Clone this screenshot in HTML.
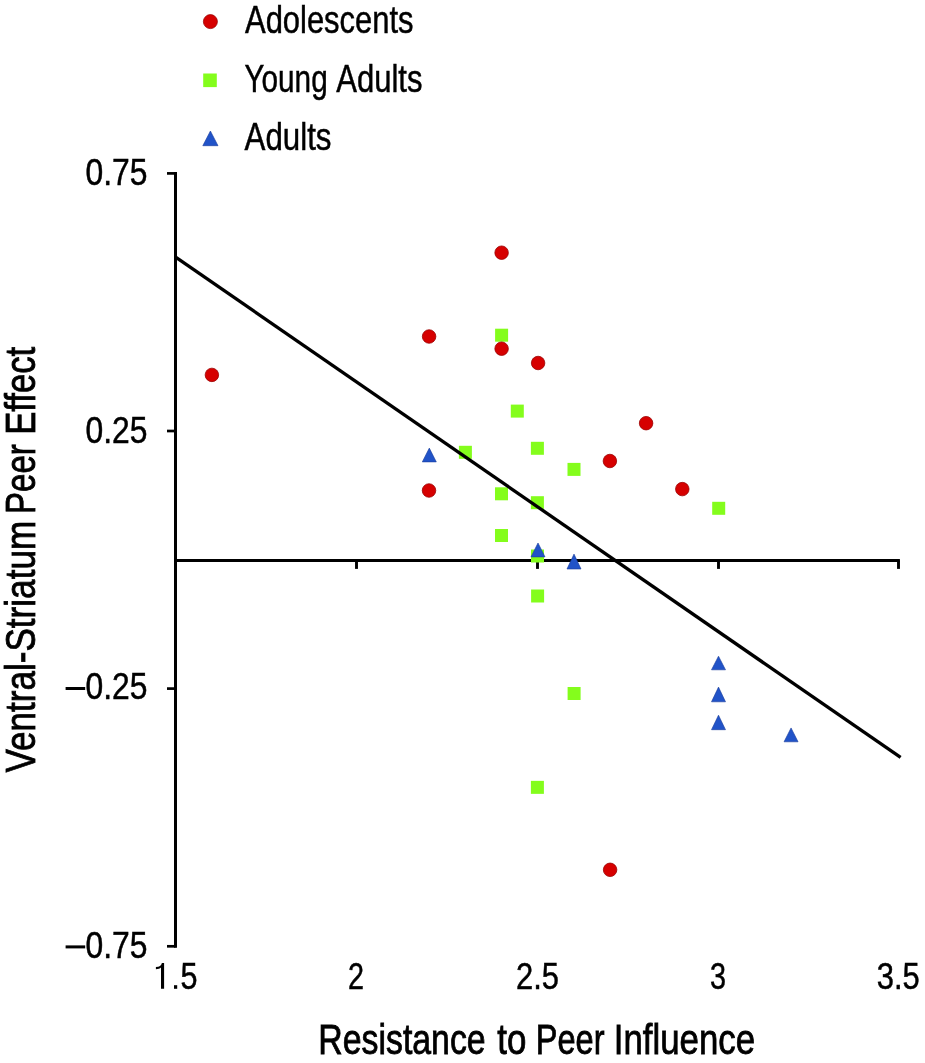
<!DOCTYPE html>
<html><head><meta charset="utf-8"><title>Chart</title>
<style>html,body{margin:0;padding:0;background:#fff;width:925px;height:1063px;overflow:hidden}svg{display:block;will-change:transform}</style>
</head><body><svg width="925" height="1063" viewBox="0 0 925 1063"><rect width="925" height="1063" fill="#fff"/><line x1="175.5" y1="172.1" x2="175.5" y2="947.7" stroke="#000" stroke-width="3"/><line x1="167" y1="173.4" x2="175.5" y2="173.4" stroke="#000" stroke-width="2.7"/><line x1="167" y1="431.0" x2="175.5" y2="431.0" stroke="#000" stroke-width="2.7"/><line x1="167" y1="688.6" x2="175.5" y2="688.6" stroke="#000" stroke-width="2.7"/><line x1="167" y1="946.3" x2="175.5" y2="946.3" stroke="#000" stroke-width="2.7"/><line x1="175.5" y1="560.4" x2="899.9" y2="560.4" stroke="#000" stroke-width="3"/><line x1="356.5" y1="560.4" x2="356.5" y2="568.9" stroke="#000" stroke-width="2.9"/><line x1="537.5" y1="560.4" x2="537.5" y2="568.9" stroke="#000" stroke-width="2.9"/><line x1="718.5" y1="560.4" x2="718.5" y2="568.9" stroke="#000" stroke-width="2.9"/><line x1="898.5" y1="560.4" x2="898.5" y2="568.9" stroke="#000" stroke-width="2.9"/><rect x="495.10" y="328.70" width="13.0" height="13.0" fill="#84fd1c"/><rect x="510.80" y="404.60" width="13.0" height="13.0" fill="#84fd1c"/><rect x="458.90" y="445.80" width="13.0" height="13.0" fill="#84fd1c"/><rect x="530.90" y="441.80" width="13.0" height="13.0" fill="#84fd1c"/><rect x="567.50" y="462.90" width="13.0" height="13.0" fill="#84fd1c"/><rect x="495.00" y="487.30" width="13.0" height="13.0" fill="#84fd1c"/><rect x="530.90" y="496.20" width="13.0" height="13.0" fill="#84fd1c"/><rect x="495.00" y="529.00" width="13.0" height="13.0" fill="#84fd1c"/><rect x="531.00" y="549.50" width="13.0" height="13.0" fill="#84fd1c"/><rect x="531.10" y="589.50" width="13.0" height="13.0" fill="#84fd1c"/><rect x="567.60" y="687.00" width="13.0" height="13.0" fill="#84fd1c"/><rect x="530.90" y="780.85" width="13.0" height="13.0" fill="#84fd1c"/><rect x="712.20" y="501.80" width="13.0" height="13.0" fill="#84fd1c"/><circle cx="211.9" cy="374.9" r="6.75" fill="#d60000" stroke="#9a0000" stroke-width="0.8"/><circle cx="429.1" cy="336.5" r="6.75" fill="#d60000" stroke="#9a0000" stroke-width="0.8"/><circle cx="501.6" cy="252.7" r="6.75" fill="#d60000" stroke="#9a0000" stroke-width="0.8"/><circle cx="501.6" cy="348.7" r="6.75" fill="#d60000" stroke="#9a0000" stroke-width="0.8"/><circle cx="538.1" cy="363" r="6.75" fill="#d60000" stroke="#9a0000" stroke-width="0.8"/><circle cx="429.0" cy="490.5" r="6.75" fill="#d60000" stroke="#9a0000" stroke-width="0.8"/><circle cx="646.1" cy="423.2" r="6.75" fill="#d60000" stroke="#9a0000" stroke-width="0.8"/><circle cx="609.9" cy="461.0" r="6.75" fill="#d60000" stroke="#9a0000" stroke-width="0.8"/><circle cx="682.3" cy="489.1" r="6.75" fill="#d60000" stroke="#9a0000" stroke-width="0.8"/><circle cx="610.1" cy="869.8" r="6.75" fill="#d60000" stroke="#9a0000" stroke-width="0.8"/><polygon points="429.30,448.10 436.30,461.90 422.30,461.90" fill="#2153c8" stroke="#173a9a" stroke-width="0.6" stroke-linejoin="miter"/><polygon points="538.00,543.00 545.00,556.90 531.00,556.90" fill="#2153c8" stroke="#173a9a" stroke-width="0.6" stroke-linejoin="miter"/><polygon points="574.00,554.10 581.00,569.00 567.00,569.00" fill="#2153c8" stroke="#173a9a" stroke-width="0.6" stroke-linejoin="miter"/><polygon points="718.50,656.20 725.50,669.80 711.50,669.80" fill="#2153c8" stroke="#173a9a" stroke-width="0.6" stroke-linejoin="miter"/><polygon points="718.50,687.10 725.50,701.80 711.50,701.80" fill="#2153c8" stroke="#173a9a" stroke-width="0.6" stroke-linejoin="miter"/><polygon points="718.50,715.20 725.50,729.70 711.50,729.70" fill="#2153c8" stroke="#173a9a" stroke-width="0.6" stroke-linejoin="miter"/><polygon points="791.05,727.95 798.05,741.80 784.05,741.80" fill="#2153c8" stroke="#173a9a" stroke-width="0.6" stroke-linejoin="miter"/><line x1="176" y1="257.3" x2="900.6" y2="757.4" stroke="#000" stroke-width="3.3"/><circle cx="210.4" cy="21.6" r="7.0" fill="#d60000" stroke="#9a0000" stroke-width="0.8"/><rect x="203.20" y="73.50" width="13.6" height="13.6" fill="#84fd1c"/><polygon points="210.40,131.00 218.00,145.70 202.80,145.70" fill="#2153c8" stroke="#173a9a" stroke-width="0.6" stroke-linejoin="miter"/><rect x="65.6" y="687.0" width="19.6" height="3.0" fill="#000"/><rect x="65.6" y="945.4" width="19.6" height="3.0" fill="#000"/><path d="M161.0,988.8 L164.1,988.8 L164.1,962.9 L161.9,962.9 C161.2,965.6 159.6,966.6 155.9,966.9 L155.9,969.2 C158.2,969.1 160.0,968.6 161.0,967.6 Z" fill="#000"/><rect x="174.0" y="985.2" width="3.2" height="3.6" fill="#000"/><g font-family='"Liberation Sans", sans-serif' fill="#000" stroke="#000" stroke-width="0.5"><text x="245.0" y="32.8" font-size="38.7" textLength="168.5" lengthAdjust="spacingAndGlyphs" text-anchor="start" >Adolescents</text><text x="244.43" y="92.0" font-size="38.7" textLength="83.26" lengthAdjust="spacingAndGlyphs" text-anchor="start" >Young</text><text x="336.2" y="92.0" font-size="38.7" textLength="86.23" lengthAdjust="spacingAndGlyphs" text-anchor="start" >Adults</text><text x="244.5" y="149.5" font-size="38.7" textLength="87.0" lengthAdjust="spacingAndGlyphs" text-anchor="start" >Adults</text><text x="147.5" y="184.6" font-size="37.4" textLength="62" lengthAdjust="spacingAndGlyphs" text-anchor="end" >0.75</text><text x="147.5" y="442.6" font-size="37.4" textLength="62" lengthAdjust="spacingAndGlyphs" text-anchor="end" >0.25</text><text x="147.5" y="699.4" font-size="37.4" textLength="62" lengthAdjust="spacingAndGlyphs" text-anchor="end" >0.25</text><text x="147.5" y="957.6" font-size="37.4" textLength="62" lengthAdjust="spacingAndGlyphs" text-anchor="end" >0.75</text><text x="356.1" y="988.6" font-size="37.4" textLength="16" lengthAdjust="spacingAndGlyphs" text-anchor="middle" >2</text><text x="537.5" y="988.6" font-size="37.4" textLength="43" lengthAdjust="spacingAndGlyphs" text-anchor="middle" >2.5</text><text x="718.0" y="988.6" font-size="37.4" textLength="16" lengthAdjust="spacingAndGlyphs" text-anchor="middle" >3</text><text x="898.3" y="988.6" font-size="37.4" textLength="43" lengthAdjust="spacingAndGlyphs" text-anchor="middle" >3.5</text><text x="197.4" y="988.6" font-size="37.4" textLength="17.0" lengthAdjust="spacingAndGlyphs" text-anchor="end" >5</text><text x="318.36" y="1053.8" font-size="43.4" textLength="167.23" lengthAdjust="spacingAndGlyphs" text-anchor="start" stroke="#000" stroke-width="0.85">Resistance</text><text x="497.3" y="1053.8" font-size="43.4" textLength="29.05" lengthAdjust="spacingAndGlyphs" text-anchor="start" stroke="#000" stroke-width="0.85">to</text><text x="535.85" y="1053.8" font-size="43.4" textLength="68.69" lengthAdjust="spacingAndGlyphs" text-anchor="start" stroke="#000" stroke-width="0.85">Peer</text><text x="613.79" y="1053.8" font-size="43.4" textLength="141.2" lengthAdjust="spacingAndGlyphs" text-anchor="start" stroke="#000" stroke-width="0.85">Influence</text><g transform="translate(34.6,772.6) rotate(-90)"><text x="0.0" y="0" font-size="43.4" textLength="251.79" lengthAdjust="spacingAndGlyphs" text-anchor="start" stroke="#000" stroke-width="0.85">Ventral-Striatum</text><text x="258.72" y="0" font-size="43.4" textLength="69.58" lengthAdjust="spacingAndGlyphs" text-anchor="start" stroke="#000" stroke-width="0.85">Peer</text><text x="337.8" y="0" font-size="43.4" textLength="88.02" lengthAdjust="spacingAndGlyphs" text-anchor="start" stroke="#000" stroke-width="0.85">Effect</text></g></g></svg></body></html>
